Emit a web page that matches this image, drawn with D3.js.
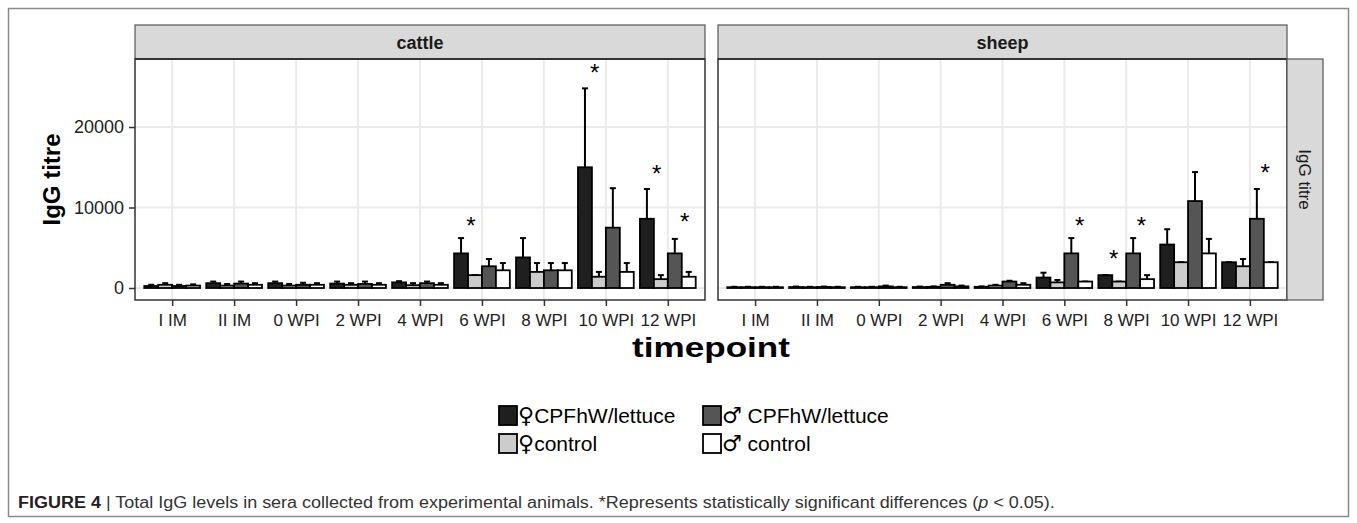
<!DOCTYPE html>
<html>
<head>
<meta charset="utf-8">
<script src="https://cdn.jsdelivr.net/npm/d3@7"></script>
<style>
body { margin: 0; background: #fff; }
text { font-family: "Liberation Sans", Arial, sans-serif; }
</style>
</head>
<body>
<script>
const width = 1357
const height = 523

// data
const timepoints = ['I IM','II IM','0 WPI','2 WPI','4 WPI','6 WPI','8 WPI','10 WPI','12 WPI']
const groups = ['♀CPFhW/lettuce','♀control','♂ CPFhW/lettuce','♂ control']
const panels = ['cattle','sheep']

// mean titre per timepoint, one array per group
const cattleFCPF  = [250, 600, 600, 550, 700, 4300, 3800, 15000, 8600]
const cattleFCtrl = [400, 300, 300, 400, 350, 1600, 2000, 1400, 1100]
const cattleMCPF  = [250, 550, 400, 500, 600, 2700, 2200, 7500, 4300]
const cattleMCtrl = [300, 400, 400, 400, 400, 2200, 2200, 2000, 1400]
// upper error bar ends
const cattleFCPFErr  = [400, 800, 800, 800, 850, 6200, 6200, 24800, 12300]
const cattleFCtrlErr = [600, 500, 500, 600, 600, 1600, 3100, 2000, 1600]
const cattleMCPFErr  = [400, 800, 650, 800, 800, 3600, 3100, 12400, 6100]
const cattleMCtrlErr = [450, 600, 600, 600, 600, 3100, 3100, 3100, 2000]

const sheepFCPF  = [100, 120, 100, 120, 150, 1300, 1600, 5400, 3200]
const sheepFCtrl = [100, 100, 100, 150, 300, 700, 800, 3200, 2700]
const sheepMCPF  = [100, 130, 200, 400, 800, 4300, 4300, 10800, 8600]
const sheepMCtrl = [100, 100, 100, 200, 400, 800, 1100, 4300, 3200]
const sheepFCPFErr  = [150, 180, 150, 180, 200, 1900, 1600, 7300, 3200]
const sheepFCtrlErr = [150, 150, 150, 200, 400, 1000, 800, 3200, 3600]
const sheepMCPFErr  = [150, 180, 300, 600, 900, 6200, 6200, 14400, 12300]
const sheepMCtrlErr = [150, 150, 150, 300, 600, 800, 1600, 6100, 3200]

// significance stars: panel, timepoint, bar slot (fractional), height
const stars = [
  {panel:'cattle', t:'6 WPI',  slot:0.7, v:8000},
  {panel:'cattle', t:'10 WPI', slot:0.7, v:27000},
  {panel:'cattle', t:'12 WPI', slot:0.7, v:14400},
  {panel:'cattle', t:'12 WPI', slot:2.7, v:8500},
  {panel:'sheep',  t:'6 WPI',  slot:2.6, v:7900},
  {panel:'sheep',  t:'8 WPI',  slot:0.6, v:3800},
  {panel:'sheep',  t:'8 WPI',  slot:2.6, v:7900},
  {panel:'sheep',  t:'12 WPI', slot:2.6, v:14500}
]

const yTicks = [0, 10000, 20000]
const colors = ['#1f1f1f','#cccccc','#555555','#ffffff']

const series = {
  cattle: [[cattleFCPF,cattleFCPFErr],[cattleFCtrl,cattleFCtrlErr],[cattleMCPF,cattleMCPFErr],[cattleMCtrl,cattleMCtrlErr]],
  sheep:  [[sheepFCPF,sheepFCPFErr],[sheepFCtrl,sheepFCtrlErr],[sheepMCPF,sheepMCPFErr],[sheepMCtrl,sheepMCtrlErr]]
}

const svg = d3.select('body').append('svg')
  .attr('width', width)
  .attr('height', height)

// outer figure frame
svg.append('rect')
  .attr('x', 8.5).attr('y', 8.5)
  .attr('width', 1340).attr('height', 508)
  .attr('fill', 'none').attr('stroke', '#8a8a8a').attr('stroke-width', 1.5)

const plotTop = 59, plotBottom = 300
const panelX = {cattle:[135,705], sheep:[718,1287]}

const y = d3.scaleLinear().domain([-1490, 28450]).range([plotBottom, plotTop])

panels.forEach(p => {
  const [x0, x1] = panelX[p]
  const x = d3.scalePoint().domain(timepoints).range([x0, x1]).padding(0.6)
  const dodge = x.step() * 0.9
  const barW = dodge / 4
  const g = svg.append('g').attr('class', 'panel-' + p)

  // grid
  g.append('g').selectAll('line.v').data(timepoints).enter().append('line')
    .attr('x1', d => x(d)).attr('x2', d => x(d))
    .attr('y1', plotTop).attr('y2', plotBottom)
    .attr('stroke', '#ebebeb').attr('stroke-width', 2)
  g.append('g').selectAll('line.h').data(yTicks).enter().append('line')
    .attr('x1', x0).attr('x2', x1)
    .attr('y1', d => y(d)).attr('y2', d => y(d))
    .attr('stroke', '#ebebeb').attr('stroke-width', 2)

  // bars and error bars
  series[p].forEach((s, gi) => {
    const [vals, errs] = s
    const bx = t => x(t) - dodge / 2 + gi * barW
    const gg = g.append('g')
    gg.selectAll('line.err').data(timepoints).enter().append('line')
      .attr('x1', (t) => bx(t) + barW / 2).attr('x2', (t) => bx(t) + barW / 2)
      .attr('y1', (t, i) => y(vals[i])).attr('y2', (t, i) => y(errs[i]))
      .attr('stroke', '#000').attr('stroke-width', 2)
    gg.selectAll('line.cap').data(timepoints).enter().append('line')
      .attr('x1', (t) => bx(t) + barW / 2 - 3).attr('x2', (t) => bx(t) + barW / 2 + 3)
      .attr('y1', (t, i) => y(errs[i])).attr('y2', (t, i) => y(errs[i]))
      .attr('stroke', '#000').attr('stroke-width', 2)
    gg.selectAll('rect').data(timepoints).enter().append('rect')
      .attr('x', t => bx(t))
      .attr('width', barW)
      .attr('y', (t, i) => y(vals[i]))
      .attr('height', (t, i) => y(0) - y(vals[i]))
      .attr('fill', colors[gi])
      .attr('stroke', '#000').attr('stroke-width', 1.8)
  })

  // stars
  g.selectAll('text.star').data(stars.filter(d => d.panel === p)).enter().append('text')
    .attr('x', d => x(d.t) - dodge / 2 + (d.slot + 0.5) * barW)
    .attr('y', d => y(d.v) + 10)
    .attr('text-anchor', 'middle')
    .attr('font-size', 24)
    .attr('fill', '#000')
    .text('*')

  // panel border
  g.append('rect')
    .attr('x', x0).attr('y', plotTop).attr('width', x1 - x0).attr('height', plotBottom - plotTop)
    .attr('fill', 'none').attr('stroke', '#333').attr('stroke-width', 1.5)

  // strip
  g.append('rect')
    .attr('x', x0).attr('y', 25).attr('width', x1 - x0).attr('height', plotTop - 25)
    .attr('fill', '#d9d9d9').attr('stroke', '#555').attr('stroke-width', 1.2)
  g.append('line').attr('x1', x0).attr('x2', x1).attr('y1', plotTop).attr('y2', plotTop)
    .attr('stroke', '#333').attr('stroke-width', 2)
  g.append('text')
    .attr('x', (x0 + x1) / 2).attr('y', 49)
    .attr('text-anchor', 'middle').attr('font-size', 18).attr('font-weight', 'bold')
    .attr('fill', '#1a1a1a')
    .text(p)

  // x axis
  const xa = g.append('g').attr('transform', `translate(0,${plotBottom})`)
    .call(d3.axisBottom(x).tickSize(6).tickPadding(8))
  xa.select('.domain').remove()
  xa.selectAll('line').attr('stroke', '#333').attr('stroke-width', 1.5)
  xa.selectAll('text').attr('font-size', 17).attr('fill', '#222')
    .attr('font-family', '"Liberation Sans", Arial, sans-serif')

  if (p === 'cattle') {
    const ya = g.append('g').attr('transform', `translate(${x0},0)`)
      .call(d3.axisLeft(y).tickValues(yTicks).tickFormat(d3.format('d')).tickSize(6).tickPadding(5))
    ya.select('.domain').remove()
    ya.selectAll('line').attr('stroke', '#333').attr('stroke-width', 1.5)
    ya.selectAll('text').attr('font-size', 18).attr('fill', '#222')
      .attr('font-family', '"Liberation Sans", Arial, sans-serif')
  }
})

// right strip
svg.append('rect')
  .attr('x', 1287).attr('y', plotTop).attr('width', 36).attr('height', plotBottom - plotTop)
  .attr('fill', '#d9d9d9').attr('stroke', '#555').attr('stroke-width', 1.2)
svg.append('text')
  .attr('transform', `translate(1299,${(plotTop + plotBottom) / 2}) rotate(90)`)
  .attr('text-anchor', 'middle').attr('font-size', 17).attr('fill', '#1a1a1a')
  .text('IgG titre')

// axis titles
svg.append('text')
  .attr('transform', `translate(60,${(plotTop + plotBottom) / 2}) rotate(-90)`)
  .attr('text-anchor', 'middle').attr('font-size', 24).attr('font-weight', 'bold')
  .text('IgG titre')
const xTitleX = (135 + 1287) / 2
svg.append('text')
  .attr('transform', `translate(${xTitleX},357) scale(1.3,1)`)
  .attr('text-anchor', 'middle').attr('font-size', 27).attr('font-weight', 'bold')
  .text('timepoint')

// legend
const legend = svg.append('g')
const legPos = [[499,406],[499,434],[703,406],[703,434]]
groups.forEach((name, i) => {
  const [lx, ly] = legPos[i]
  legend.append('rect')
    .attr('x', lx).attr('y', ly).attr('width', 18).attr('height', 19)
    .attr('fill', colors[i]).attr('stroke', '#000').attr('stroke-width', 1.8)
  const t = legend.append('text')
    .attr('x', lx + 19).attr('y', ly + 17)
    .attr('font-size', 21)
  t.append('tspan').attr('font-family', '"DejaVu Sans", sans-serif').attr('font-size', 22)
    .text(name.slice(0, 1))
  t.append('tspan').text(name.slice(1))
})

// caption
const cap = svg.append('text').attr('x', 18).attr('y', 508)
  .attr('font-size', 16).attr('fill', '#333')
cap.append('tspan').attr('font-weight', 'bold').attr('fill', '#222').text('FIGURE 4 ')
cap.append('tspan').text('| Total IgG levels in sera collected from experimental animals. *Represents statistically significant differences (')
cap.append('tspan').attr('font-style', 'italic').text('p')
cap.append('tspan').text(' < 0.05).')
const capW = cap.node().getComputedTextLength()
cap.attr('transform', `translate(18,0) scale(${1037 / capW},1) translate(-18,0)`)
</script>
</body>
</html>
